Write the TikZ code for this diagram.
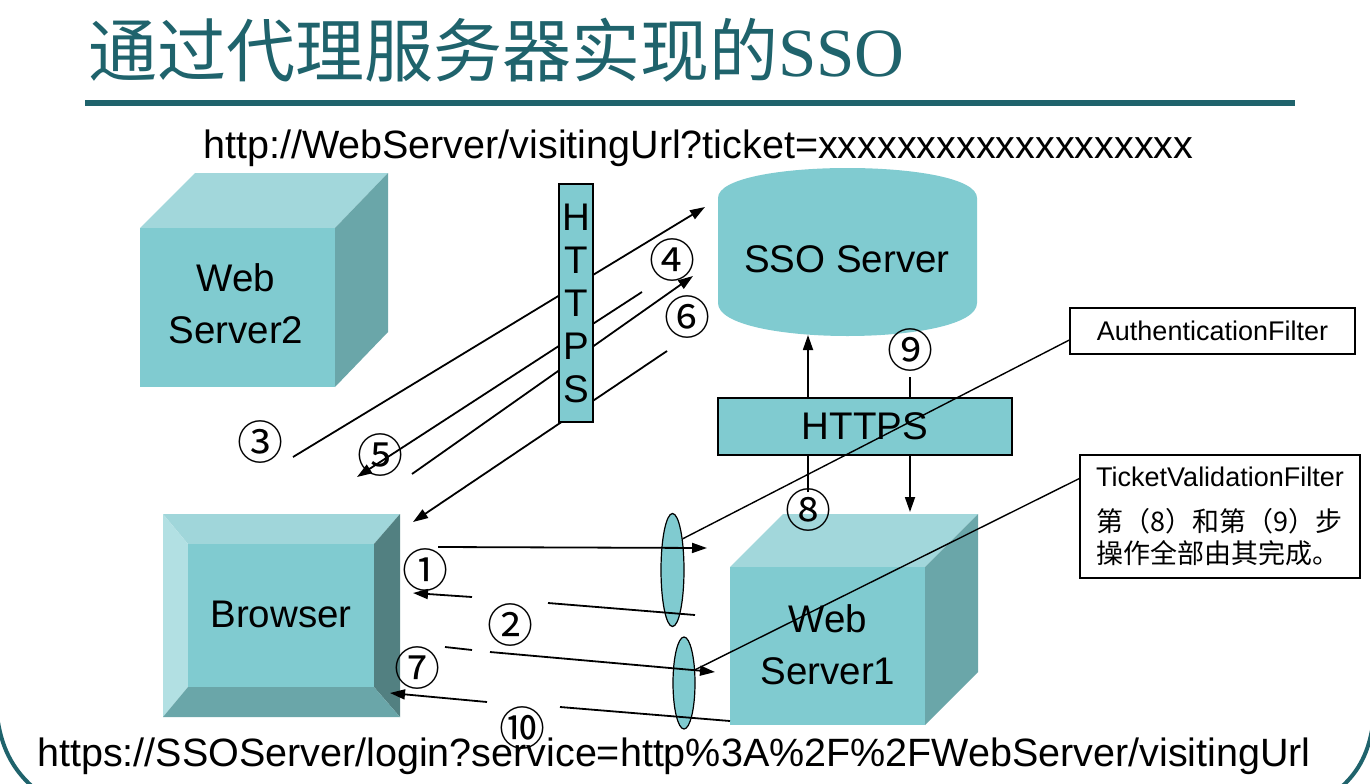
\documentclass[tikz,border=0pt]{standalone}
\usepackage{fontspec}
\setmainfont{Liberation Sans}
\newfontfamily\cjk{Noto Sans CJK SC}
\newfontfamily\serifen{Liberation Serif}
\usetikzlibrary{arrows.meta,shapes.geometric}
\definecolor{tealc}{RGB}{128,203,208}
\definecolor{topc}{RGB}{162,215,219}
\definecolor{sidec}{RGB}{106,166,169}
\definecolor{bevl}{RGB}{178,224,227}
\definecolor{bevr}{RGB}{82,128,129}
\definecolor{bevb}{RGB}{106,166,169}
\definecolor{bevt}{RGB}{160,214,218}
\definecolor{titlec}{RGB}{31,99,108}
\tikzset{
  lbl/.style={font=\fontsize{38.5}{52}\selectfont, align=center, inner sep=0pt},
  num/.style={font=\cjk\fontsize{46}{50}\selectfont, inner sep=0pt},
  arr/.style={line width=1.8pt, -{Triangle[length=15pt,width=10pt]}},
  seg/.style={line width=1.8pt},
  ptr/.style={line width=1.4pt},
  lens/.style={ellipse, draw, line width=1.2pt, fill=tealc, inner sep=0pt},
  hbox/.style={rectangle, draw, line width=1.5pt, fill=tealc, inner sep=0pt},
  filt/.style={rectangle, draw, line width=1.3pt, fill=white, inner sep=0pt},
  url/.style={font=\fontsize{39.5}{46}\selectfont, inner sep=0pt, anchor=base west}
}
\begin{document}
\begin{tikzpicture}[x=1pt,y=-1pt]
\useasboundingbox[fill=white] (0,0) rectangle (1370,784);
% slide frame corners
\draw[titlec, line width=4pt] (-2,722) .. controls (3,752) and (15,772) .. (36,790);
\draw[titlec, line width=4pt] (1372,730) .. controls (1367,756) and (1357,774) .. (1338,790);
% title
\node[anchor=base west, inner sep=0pt, text=titlec, font=\fontsize{69}{80}\selectfont] (title) at (88,77) {{\cjk 通过代理服务器实现的}{\serifen SSO}};
\coordinate (r1) at (85,103);
\coordinate (r2) at (1295,103);
\draw[titlec, line width=6pt] (r1) -- (r2);
% urls
\node[url] (urltop) at (203,158) {http://WebServer/visitingUrl?ticket=xxxxxxxxxxxxxxxxxxx};
\node[url] (urlbot) at (37,766) {https://SSOServer/login?service=http\%3A\%2F\%2FWebServer/visitingUrl};
% Web Server2 cube
\fill[topc] (140,228) -- (195,173) -- (388,173) -- (335,228) -- cycle;
\fill[sidec] (335,228) -- (388,173) -- (388,332) -- (335,387) -- cycle;
\fill[tealc] (140,228) rectangle (335,387);
\node[lbl] (ws2) at (236,304) {Web\\Server2};
% SSO server cylinder
\fill[tealc] (718,198) .. controls (718,158) and (977,158) .. (977,198) -- (977,303)
  .. controls (977,347) and (718,347) .. (718,303) -- cycle;
\node[lbl] (sso) at (847,259) {SSO Server};
% Web Server1 cube
\fill[topc] (730,567) -- (783,514) -- (978,514) -- (925,567) -- cycle;
\fill[sidec] (925,567) -- (978,514) -- (978,672) -- (925,725) -- cycle;
\fill[tealc] (730,567) rectangle (925,725);
\node[lbl] (ws1) at (828,645) {Web\\Server1};
% Browser bevel box
\fill[bevt] (163,514) -- (400,514) -- (374,544) -- (188,544) -- cycle;
\fill[bevl] (163,514) -- (188,544) -- (188,687) -- (163,717) -- cycle;
\fill[bevr] (400,514) -- (400,717) -- (374,687) -- (374,544) -- cycle;
\fill[bevb] (163,717) -- (188,687) -- (374,687) -- (400,717) -- cycle;
\fill[tealc] (188,544) rectangle (374,687);
\node[lbl] (browser) at (281,614) {Browser};
% lenses
\node[lens, minimum width=23pt, minimum height=113pt] (ell1) at (672.5,570) {};
\node[lens, minimum width=22pt, minimum height=92pt] (ell2) at (684,683) {};
% lower arrows
\coordinate (a1s) at (438,547);
\coordinate (a1e) at (707,548);
\draw[arr] (a1s) -- (a1e);
\coordinate (b1s) at (695,615);
\coordinate (b1m) at (548,603);
\coordinate (b1n) at (472,597);
\coordinate (b1e) at (413,593);
\draw[seg] (b1s) -- (b1m);
\draw[arr] (b1n) -- (b1e);
\coordinate (a2s) at (445,647);
\coordinate (a2m) at (472,650);
\coordinate (a2n) at (490,652);
\coordinate (a2e) at (715,672);
\draw[seg] (a2s) -- (a2m);
\draw[arr] (a2n) -- (a2e);
\coordinate (b2s) at (730,721);
\coordinate (b2m) at (560,707);
\coordinate (b2n) at (487,702);
\coordinate (b2e) at (390,693);
\draw[seg] (b2s) -- (b2m);
\draw[arr] (b2n) -- (b2e);
% upper arrows
\coordinate (a3s) at (293,457);
\coordinate (a3e) at (705,207);
\draw[arr] (a3s) -- (a3e);
\coordinate (a4s) at (412,474);
\coordinate (a4e) at (693,276);
\draw[arr] (a4s) -- (a4e);
\coordinate (a5s) at (642,292);
\coordinate (a5e) at (357,477);
\draw[arr] (a5s) -- (a5e);
\coordinate (a6s) at (667,351);
\coordinate (a6e) at (413,522);
\draw[arr] (a6s) -- (a6e);
% SSO <-> WebServer1 arrows
\coordinate (a8s) at (808,492);
\coordinate (a8e) at (808,335);
\draw[arr] (a8s) -- (a8e);
\coordinate (a9s) at (910,377);
\coordinate (a9e) at (910,512);
\draw[arr] (a9s) -- (a9e);
% HTTPS boxes
\node[hbox, minimum width=34pt, minimum height=238pt, lbl, font=\fontsize{38.5}{43}\selectfont] (httpsv) at (576,303) {H\\T\\T\\P\\S};
\node[hbox, minimum width=294pt, minimum height=57pt, lbl] (httpsh) at (865,426.5) {HTTPS};
% filter boxes
\node[filt, minimum width=285pt, minimum height=46pt, font=\fontsize{27}{32}\selectfont] (authf) at (1212.5,331) {AuthenticationFilter};
\node[filt, minimum width=280pt, minimum height=123pt, font=\fontsize{27}{32}\selectfont, align=left] (tvf) at (1220,516.5) {TicketValidationFilter\\[13pt]{\cjk 第（8）和第（9）步}\\{\cjk 操作全部由其完成。}};
\draw[ptr] ([yshift=-9pt]authf.west) -- (ell1.72);
\draw[ptr] ([yshift=38pt]tvf.west) -- (ell2.50);
% step numbers
\node[num] (n1) at (425,570) {①};
\node[num] (n2) at (510,625) {②};
\node[num] (n3) at (260,442) {③};
\node[num] (n4) at (672,260) {④};
\node[num] (n5) at (380,455) {⑤};
\node[num] (n6) at (687,317) {⑥};
\node[num] (n7) at (417,668) {⑦};
\node[num] (n8) at (808,510) {⑧};
\node[num] (n9) at (910,350) {⑨};
\node[num] (n10) at (522,728) {⑩};
\end{tikzpicture}
\end{document}
